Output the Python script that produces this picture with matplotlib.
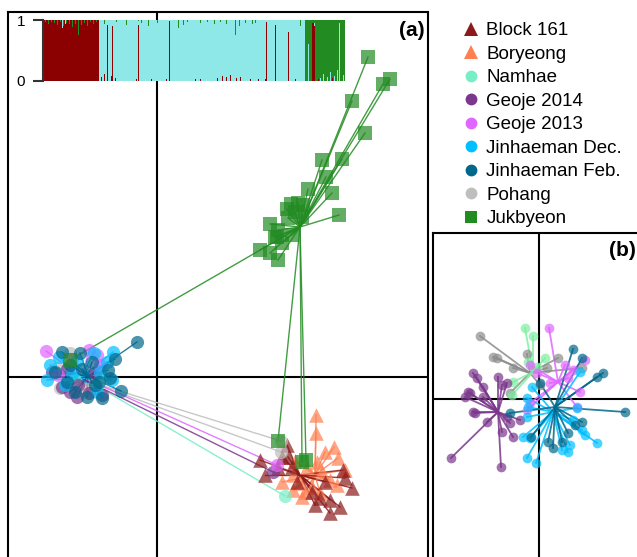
import matplotlib.pyplot as plt
from matplotlib.lines import Line2D

plt.rcParams['font.family'] = ['Liberation Sans', 'DejaVu Sans']

groups = ['Block 161', 'Boryeong', 'Namhae', 'Geoje 2014', 'Geoje 2013',
          'Jinhaeman Dec.', 'Jinhaeman Feb.', 'Pohang', 'Jukbyeon']
colors = ['#8B1A1A', '#FF7F50', '#76EEC6', '#7A378B', '#E066FF',
          '#00BFFF', '#00688B', '#BEBEBE', '#228B22']
markers = ['^', '^', 'o', 'o', 'o', 'o', 'o', 'o', 's']

# ---- panel (a): LD1 / LD2 scores, group mean + individuals
a_block161_mean = (14.3, -9.8)
a_block161 = [(13.0, -6.8), (10.3, -8.3), (10.8, -9.8), (12.5, -8.0), (12.1, -9.1),
              (18.6, -9.3), (19.5, -11.1), (18.8, -10.1), (17.3, -12.3), (15.8, -12.8),
              (17.3, -13.6), (18.3, -13.0), (16.3, -12.1), (13.1, -8.0), (14.0, -10.5),
              (15.5, -11.5), (13.5, -9.0), (16.8, -10.5)]
a_boryeong_mean = (15.8, -9.8)
a_boryeong = [(15.9, -3.8), (15.9, -5.6), (17.7, -7.0), (16.8, -7.5), (18.1, -8.1),
              (13.8, -8.4), (16.0, -8.5), (18.8, -9.3), (12.5, -10.5), (13.6, -9.8),
              (14.3, -10.6), (15.5, -11.0), (18.0, -10.8), (16.3, -11.6), (14.5, -12.0),
              (13.6, -11.3), (17.3, -10.3), (15.0, -9.0), (16.5, -9.5), (14.8, -11.5)]
a_namhae_mean = (-6.7, -0.5)
a_namhae = [(12.8, -11.9), (-5.7, -0.1), (-8.2, -0.3), (-6.0, -1.0)]
a_geoje14_mean = (-7.2, -0.3)
a_geoje14 = [(-8.7, -1.5), (-6.8, -1.6), (-10.5, 0.5), (-7.9, -0.8), (11.6, -9.5),
             (-9.5, -1.0), (-6.2, 0.4), (-8.0, -2.0), (-5.5, -1.8), (-9.0, 0.8)]
a_geoje13_mean = (-7.5, 0.0)
a_geoje13 = [(-11.1, 2.6), (-6.8, 2.7), (-9.9, 0.2), (-5.7, 1.2), (12.0, -8.8),
             (-8.5, 1.8), (-6.0, 2.2)]
a_jindec_mean = (-7.7, -0.1)
a_jindec = [(-6.3, 2.4), (-4.4, 2.5), (-11.0, -0.3), (-4.5, -0.3), (-10.7, 1.2),
            (-9.2, -0.8), (-5.7, 0.5), (-8.0, 1.6), (-9.8, 2.0), (-6.0, -1.5),
            (-8.5, 0.3), (-5.0, 1.5)]
a_jinfeb_mean = (-6.9, 0.1)
a_jinfeb = [(-2.0, 3.5), (-9.5, 2.5), (-7.7, 2.4), (-5.5, -2.1), (-3.6, -1.4),
            (-4.9, 0.7), (-4.7, -0.1), (-8.7, 1.2), (-6.2, -0.8), (-10.2, 0.5),
            (-8.2, -1.5), (-6.5, 1.5), (-7.5, 0.8), (-5.8, -0.5), (-9.0, -0.5),
            (-4.2, 1.8), (-7.0, -2.0)]
a_pohang_mean = (-7.3, -0.3)
a_pohang = [(-8.7, 2.4), (-9.7, -1.1), (12.4, -6.4), (12.4, -7.5), (-7.0, -1.2),
            (-10.0, 0.9)]
a_jukbyeon_mean = (14.3, 15.0)
a_jukbyeon = [(21.1, 32.0), (23.3, 29.8), (22.6, 29.3), (19.5, 27.6), (20.8, 24.4),
              (16.5, 21.7), (18.5, 21.8), (16.9, 20.0), (15.1, 18.8), (17.5, 18.4),
              (18.2, 16.2), (13.4, 17.3), (14.1, 17.4), (14.6, 17.2), (13.1, 15.9),
              (11.3, 15.3), (12.1, 14.7), (12.0, 14.0), (12.5, 13.4), (10.3, 12.7),
              (11.3, 12.4), (12.1, 11.7), (12.1, -6.4), (14.5, -8.5), (14.9, -8.3),
              (-8.7, 1.7), (13.8, 16.5), (14.5, 16.0), (13.0, 16.8), (11.8, 14.0),
              (13.5, 14.2)]

# ---- panel (b): second DAPC without Block 161, Boryeong, Jukbyeon
b_namhae_mean = (-0.6, 2.7)
b_namhae = [(-1.4, 7.1), (-0.6, 6.3), (0.6, 4.1), (-0.2, 3.2), (-2.6, 1.7),
            (-2.7, 0.4), (-1.1, 3.7)]
b_geoje14_mean = (-4.1, -1.3)
b_geoje14 = [(-6.6, 2.6), (-6.2, 2.1), (-5.6, 1.2), (-7.4, 0.2), (-6.9, 0.6),
             (-6.6, -1.3), (-6.4, -1.4), (-4.1, 2.2), (-3.7, 1.4), (-3.2, 1.6),
             (-8.8, -5.9), (-3.8, -6.8), (-2.6, -3.8), (-3.7, -3.3), (-5.2, -2.3),
             (-2.9, -2.4), (-7.1, 0.7), (-5.6, 0.2), (-3.2, -1.8), (-1.9, -2.1)]
b_geoje13_mean = (1.9, 1.7)
b_geoje13 = [(1.0, 7.1), (-0.9, 3.4), (2.6, 3.4), (4.6, 3.9), (3.4, 2.9),
             (4.1, 0.7), (1.1, 1.6), (-0.9, -0.4), (3.8, -0.8), (-1.2, -1.1),
             (-0.2, 2.6), (2.9, 2.1)]
b_jindec_mean = (1.4, -1.3)
b_jindec = [(-1.2, -5.9), (-0.3, -6.4), (-1.6, -3.8), (-0.9, -3.9), (2.3, -5.1),
            (2.9, -5.3), (3.1, -4.6), (5.8, -4.4), (4.6, -3.6), (4.3, -3.1),
            (-1.2, -1.8), (-1.1, -0.8), (3.8, -0.9), (3.4, -2.1), (-1.2, 0.1),
            (-0.7, 1.2), (4.1, 2.7)]
b_jinfeb_mean = (1.6, -0.8)
b_jinfeb = [(3.4, 5.0), (4.3, 4.1), (6.4, 2.6), (5.8, 2.2), (8.6, -1.3),
            (-2.9, -1.4), (4.3, -2.3), (3.6, -2.6), (-0.8, -3.8), (0.9, -4.3),
            (2.3, -4.3), (1.4, -4.9), (2.9, -3.4), (0.1, 1.6)]
b_pohang_mean = (-0.9, 2.6)
b_pohang = [(-5.9, 6.3), (-4.6, 4.2), (-4.2, 4.1), (-2.6, 3.1), (-1.2, 4.5),
            (1.9, 4.1), (0.8, 3.1), (0.1, 1.4), (-2.9, 0.6), (4.3, 3.1)]

# ---- structure plot (K = 3): membership per individual
n_ind = 303
cluster_runs = [(0, 56, 0), (56, 263, 1), (263, 303, 2)]   # start, end, cluster
# individuals with full custom membership (index, red, cyan, green)
admixed = [(64, 0.92, 0.08, 0.0), (69, 0.90, 0.10, 0.0), (95, 0.92, 0.06, 0.02),
           (126, 0.98, 0.02, 0.0), (224, 0.97, 0.03, 0.0), (233, 0.92, 0.08, 0.0),
           (246, 0.80, 0.20, 0.0), (270, 0.95, 0.0, 0.05), (271, 0.95, 0.0, 0.05),
           (272, 0.90, 0.05, 0.05), (266, 0.0, 0.6, 0.4), (297, 0.0, 0.95, 0.05)]
green_tips = [(2, 0.03), (5, 0.06), (8, 0.04), (11, 0.05), (14, 0.08), (17, 0.04),
              (20, 0.10), (23, 0.05), (26, 0.07), (29, 0.12), (32, 0.06), (35, 0.25),
              (38, 0.08), (41, 0.05), (44, 0.10), (47, 0.04), (50, 0.06), (53, 0.03),
              (61, 0.06), (73, 0.04), (83, 0.08), (98, 0.05), (105, 0.10), (114, 0.05),
              (135, 0.13), (140, 0.08), (144, 0.04), (158, 0.05), (165, 0.04),
              (172, 0.06), (178, 0.04), (184, 0.07), (193, 0.25), (197, 0.10),
              (203, 0.05), (210, 0.06), (213, 0.05), (258, 0.10)]
cyan_tips = [(19, 0.13), (22, 0.06)]
red_feet = [(58, 0.06), (61, 0.12), (68, 0.08), (72, 0.05), (93, 0.03), (108, 0.03),
            (123, 0.03), (153, 0.04), (158, 0.03), (175, 0.05), (180, 0.08),
            (184, 0.06), (188, 0.10), (194, 0.05), (198, 0.06), (208, 0.04),
            (216, 0.03), (223, 0.04), (253, 0.03), (276, 0.04), (290, 0.05)]
cyan_feet = [(278, 0.05), (281, 0.12), (285, 0.06), (288, 0.15), (292, 0.08),
             (295, 0.18), (301, 0.10)]

# build membership table
q = [[0.0, 0.0, 0.0] for _ in range(n_ind)]
for start, end, k in cluster_runs:
    for i in range(start, end):
        q[i][k] = 1.0
for lst, k in [(green_tips, 2), (cyan_tips, 1), (red_feet, 0), (cyan_feet, 1)]:
    for i, f in lst:
        main = q[i].index(max(q[i]))
        q[i][k] += f
        q[i][main] -= f
for i, r, c, g in admixed:
    q[i] = [r, c, g]
q_red = [v[0] for v in q]
q_cyan = [v[1] for v in q]
q_green = [v[2] for v in q]

fig = plt.figure(figsize=(6.37, 5.57), dpi=100)
W, H = 637.0, 557.0


def star(ax, mean, pts, color, marker, ms, lw):
    for x, y in pts:
        ax.plot([mean[0], x], [mean[1], y], color=color, lw=lw, alpha=0.85, zorder=2)
    ax.scatter([p[0] for p in pts], [p[1] for p in pts], s=ms ** 2, marker=marker,
               color=color, alpha=0.7, linewidths=0, zorder=3)


# panel (a)
axa = fig.add_axes([8 / W, (557 - 600) / H, 420 / W, 588 / H])
axa.set_xlim(-14.9, 27.1)
axa.set_ylim(-22.3, 36.5)
axa.axhline(0, color='black', lw=1.5, zorder=1)
axa.axvline(0, color='black', lw=1.5, zorder=1)
panel_a = [(a_boryeong_mean, a_boryeong, 1), (a_block161_mean, a_block161, 0),
           (a_namhae_mean, a_namhae, 2), (a_pohang_mean, a_pohang, 7),
           (a_geoje14_mean, a_geoje14, 3), (a_geoje13_mean, a_geoje13, 4),
           (a_jindec_mean, a_jindec, 5), (a_jinfeb_mean, a_jinfeb, 6),
           (a_jukbyeon_mean, a_jukbyeon, 8)]
for mean, pts, k in panel_a:
    ms = 10.5 if markers[k] == '^' else 9.5
    star(axa, mean, pts, colors[k], markers[k], ms, 1.0)
axa.set_xticks([])
axa.set_yticks([])
for s in axa.spines.values():
    s.set_linewidth(1.5)

# panel (b)
b_colors = {2: '#7CF0A0', 7: '#8C8C8C'}
axb = fig.add_axes([433 / W, (557 - 600) / H, 227 / W, 367 / H])
axb.set_xlim(-10.6, 12.1)
axb.set_ylim(-20.1, 16.6)
axb.axhline(0, color='black', lw=1.5, zorder=1)
axb.axvline(0, color='black', lw=1.5, zorder=1)
panel_b = [(b_pohang_mean, b_pohang, 7), (b_namhae_mean, b_namhae, 2),
           (b_geoje14_mean, b_geoje14, 3), (b_geoje13_mean, b_geoje13, 4),
           (b_jindec_mean, b_jindec, 5), (b_jinfeb_mean, b_jinfeb, 6)]
for mean, pts, k in panel_b:
    star(axb, mean, pts, b_colors.get(k, colors[k]), 'o', 7, 1.3)
axb.set_xticks([])
axb.set_yticks([])
for s in axb.spines.values():
    s.set_linewidth(1.5)

# structure bar plot inset
axs = fig.add_axes([43 / W, (557 - 81) / H, 302 / W, 61 / H])
axs.patch.set_alpha(0)
xs = range(n_ind)
axs.bar(xs, q_red, width=1, align='edge', color='#8B0000', linewidth=0)
axs.bar(xs, q_cyan, width=1, bottom=q_red, align='edge', color='#8EE8E8', linewidth=0)
bot = [r + c for r, c in zip(q_red, q_cyan)]
axs.bar(xs, q_green, width=1, bottom=bot, align='edge', color='#228B22', linewidth=0)
axs.set_xlim(0, n_ind)
axs.set_ylim(0, 1)
axs.set_xticks([])
axs.set_yticks([0, 1])
axs.tick_params(axis='y', length=7, width=1.5, color='#333333', labelsize=11, pad=6)
for side in ['top', 'right', 'bottom']:
    axs.spines[side].set_visible(False)
axs.spines['left'].set_linewidth(1.5)
axs.spines['left'].set_color('#333333')

# legend
handles = [Line2D([], [], ls='none', marker=m, color=c, markeredgewidth=0,
                  markersize=10.5 if m == '^' else 8.5)
           for m, c in zip(markers, colors)]
fig.legend(handles, groups, loc='upper left', bbox_to_anchor=(462 / W, 1 - 22 / H),
           frameon=False, fontsize=13.5, handlelength=1.0, handletextpad=0.3,
           labelspacing=0.34, borderpad=0, borderaxespad=0)

fig.text(425 / W, 1 - 31 / H, '(a)', ha='right', va='center', fontsize=15, fontweight='bold')
fig.text(636 / W, 1 - 250 / H, '(b)', ha='right', va='center', fontsize=15, fontweight='bold')

fig.savefig('out.png', dpi=100)
